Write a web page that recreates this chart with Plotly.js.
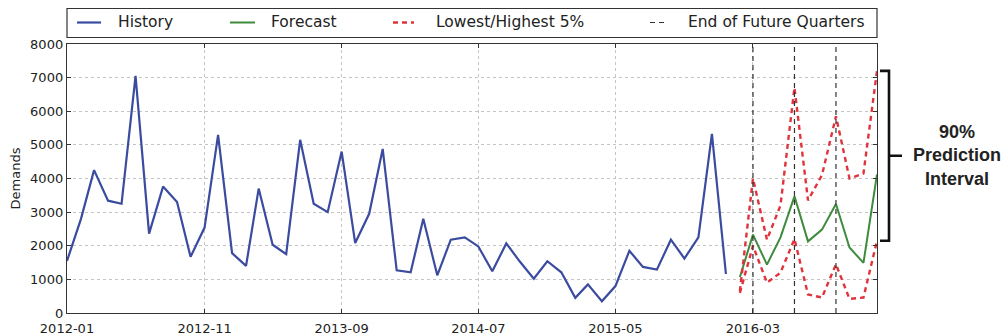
<!DOCTYPE html>
<html>
<head>
<meta charset="utf-8">
<script src="https://cdn.plot.ly/plotly-3.0.1.min.js"></script>
<style>
  html, body { margin: 0; padding: 0; background: #fff; }
  #chart { width: 1003px; height: 336px; }
</style>
</head>
<body>
<div id="chart"></div>
<script>
// Monthly demand history (2012-01 .. 2016-01)
const historyStart = '2012-01';
const historyValues = [
  1550, 2800, 4250, 3340, 3250, 7050, 2360, 3760, 3300, 1670,
  2540, 5300, 1780, 1400, 3700, 2030, 1750, 5150, 3250, 3000,
  4800, 2080, 2950, 4880, 1270, 1210, 2800, 1120, 2180, 2250,
  1980, 1240, 2070, 1530, 1020, 1540, 1210, 450, 850, 350,
  800, 1850, 1370, 1290, 2180, 1620, 2250, 5330, 1160
];

// Forecast horizon (2016-02 .. 2016-12)
const forecastStart = '2016-02';
const forecastValues = [1070, 2330, 1440, 2250, 3470, 2130, 2480, 3240, 1950, 1490, 4120];
const upperValues    = [650, 4000, 2180, 3200, 6700, 3350, 4100, 5850, 4000, 4150, 7200];
const lowerValues    = [600, 2000, 900, 1200, 2200, 550, 460, 1450, 420, 460, 2150];

// Last month of each future quarter
const quarterEnds = ['2016-03', '2016-06', '2016-09'];

// Axis ticks
const xTickLabels = ['2012-01', '2012-11', '2013-09', '2014-07', '2015-05', '2016-03'];
const yTickValues = [0, 1000, 2000, 3000, 4000, 5000, 6000, 7000, 8000];
const xRange = ['2012-01-01', '2016-12-01'];
const yRange = [0, 8000];

const legendLabels = ['History', 'Forecast', 'Lowest/Highest 5%', 'End of Future Quarters'];
const bracketLabel = '90%<br>Prediction<br>Interval';

function monthSeq(start, n) {
  let [y, m] = start.split('-').map(Number);
  const out = [];
  for (let i = 0; i < n; i++) {
    out.push(y + '-' + String(m).padStart(2, '0') + '-01');
    m++;
    if (m > 12) { m = 1; y++; }
  }
  return out;
}

const historyX = monthSeq(historyStart, historyValues.length);
const forecastX = monthSeq(forecastStart, forecastValues.length);

const BLUE = '#3b4b9f';
const GREEN = '#3e8b3e';
const RED = '#e0343c';
const DARK = '#333333';
const FONT = 'DejaVu Sans, sans-serif';

const traces = [
  { x: historyX, y: historyValues, mode: 'lines', line: { color: BLUE, width: 2.2 }, hoverinfo: 'skip' },
  { x: forecastX, y: forecastValues, mode: 'lines', line: { color: GREEN, width: 2 }, hoverinfo: 'skip' },
  { x: forecastX, y: upperValues, mode: 'lines', line: { color: RED, width: 2.4, dash: '5px,4px' }, hoverinfo: 'skip' },
  { x: forecastX, y: lowerValues, mode: 'lines', line: { color: RED, width: 2.4, dash: '5px,4px' }, hoverinfo: 'skip' }
];
quarterEnds.forEach(q => {
  traces.push({
    x: [q + '-01', q + '-01'], y: yRange, mode: 'lines',
    line: { color: DARK, width: 1.2, dash: '5px,4px' }, hoverinfo: 'skip'
  });
});

// Plot area spans pixels 67..877 horizontally and 44..313 vertically
const M = { l: 67, r: 126, t: 44, b: 23 };
const plotW = 1003 - M.l - M.r;
const plotH = 336 - M.t - M.b;
const px = v => (v - M.l) / plotW;
const py = v => (336 - M.b - v) / plotH;

const shapes = [];
const annotations = [];

// Legend box above the axes
shapes.push({ type: 'rect', xref: 'paper', yref: 'paper', x0: 0, x1: 1, y0: py(37.5), y1: py(8.5),
  line: { color: DARK, width: 1.2 }, fillcolor: '#fff' });
const legendY = py(22.5);
const legendItems = [
  { x0: 77, x1: 101, tx: 116, color: BLUE, dash: 'solid', width: 2.2 },
  { x0: 230, x1: 255, tx: 269, color: GREEN, dash: 'solid', width: 2 },
  { x0: 393, x1: 414, tx: 434, color: RED, dash: '5px,4px', width: 2.4 },
  { x0: 650, x1: 667, tx: 686, color: DARK, dash: '5px,4px', width: 1.2 }
];
legendItems.forEach((it, i) => {
  shapes.push({ type: 'line', xref: 'paper', yref: 'paper', x0: px(it.x0), x1: px(it.x1), y0: legendY, y1: legendY,
    line: { color: it.color, width: it.width, dash: it.dash } });
  annotations.push({ xref: 'paper', yref: 'paper', x: px(it.tx), y: legendY, xanchor: 'left', yanchor: 'middle',
    text: legendLabels[i], showarrow: false, font: { family: FONT, size: 15.5, color: '#222' } });
});

// Bracket marking the 90% interval at the end of the horizon
const yTop = Math.max(...upperValues);
const yBot = lowerValues[lowerValues.length - 1];
const yMid = (yTop + yBot) / 2;
const bx0 = px(880), bx1 = px(889), bx2 = px(902);
shapes.push({ type: 'path', xref: 'paper', yref: 'y',
  path: `M ${bx0},${yTop} L ${bx1},${yTop} L ${bx1},${yBot} L ${bx0},${yBot} M ${bx1},${yMid} L ${bx2},${yMid}`,
  line: { color: '#111', width: 2.6 } });
annotations.push({ xref: 'paper', yref: 'y', x: px(957), y: yMid, xanchor: 'center', yanchor: 'middle',
  text: '<b>' + bracketLabel + '</b>', showarrow: false, align: 'center',
  font: { family: 'Liberation Sans, Arial, sans-serif', size: 18, color: '#222' } });

const axisCommon = {
  showline: true, mirror: 'ticks', linecolor: DARK, linewidth: 1.2,
  ticks: 'inside', ticklen: 4, tickcolor: DARK,
  showgrid: true, gridcolor: '#c4c4c4', griddash: 'dot', gridwidth: 1,
  zeroline: false, tickfont: { family: FONT, size: 13, color: '#222' },
  fixedrange: true
};

const layout = {
  width: 1003, height: 336,
  margin: M,
  paper_bgcolor: '#fff', plot_bgcolor: '#fff',
  showlegend: false,
  xaxis: Object.assign({}, axisCommon, {
    type: 'date', range: xRange,
    tickvals: xTickLabels.map(t => t + '-01'), ticktext: xTickLabels,
    ticklabelstandoff: 3
  }),
  yaxis: Object.assign({}, axisCommon, {
    range: yRange, tickvals: yTickValues, ticktext: yTickValues.map(String),
    title: { text: 'Demands', font: { family: FONT, size: 13, color: '#222' }, standoff: 6 }
  }),
  shapes: shapes,
  annotations: annotations
};

Plotly.newPlot('chart', traces, layout, { staticPlot: true, displayModeBar: false });
</script>
</body>
</html>
